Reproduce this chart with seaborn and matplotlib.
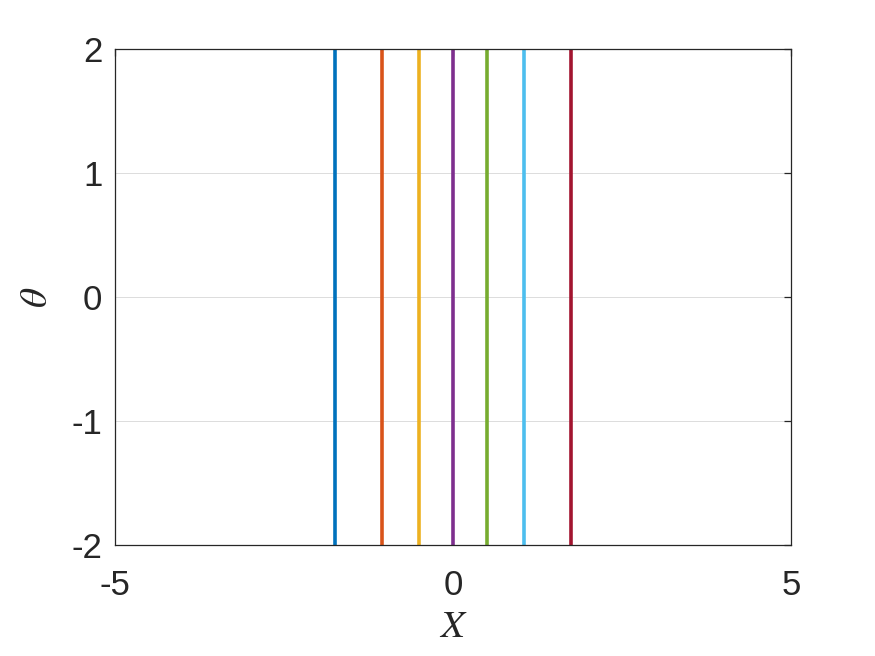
import numpy as np
import pandas as pd
import matplotlib
matplotlib.use("Agg")
import matplotlib.pyplot as plt
import seaborn as sns

# Data
x_positions = [-1.75, -1.05, -0.5, 0.0, 0.5, 1.05, 1.75]
series_names = ["s1", "s2", "s3", "s4", "s5", "s6", "s7"]
y_ends = [-2, 2]
colors = ["#0072BD", "#D95319", "#EDB120", "#7E2F8E", "#77AC30", "#4DBEEE", "#A2142F"]
x_ticks = [-5, 0, 5]
y_ticks = [-2, -1, 0, 1, 2]

rows = []
for name, xp in zip(series_names, x_positions):
    for yv in y_ends:
        rows.append({"series": name, "x": xp, "y": yv})
df = pd.DataFrame(rows)

sns.set_theme(style="white")
plt.rcParams["font.family"] = ["Liberation Sans", "DejaVu Sans"]
plt.rcParams["mathtext.fontset"] = "stix"

fig = plt.figure(figsize=(8.75, 6.56), dpi=100)
ax = fig.add_axes([0.1314, 0.169, 0.7726, 0.756])

sns.lineplot(data=df, x="x", y="y", hue="series", palette=colors,
             estimator=None, sort=False, legend=False, linewidth=2.6, ax=ax)

ax.set_xlim(-5, 5)
ax.set_ylim(-2, 2)
ax.set_xticks(x_ticks)
ax.set_yticks(y_ticks)
ax.set_xticklabels([str(t) for t in x_ticks])
ax.set_yticklabels([str(t) for t in y_ticks])
ax.grid(True, axis="y", color="#dcdcdc", linewidth=0.7)
ax.set_axisbelow(True)
for s in ax.spines.values():
    s.set_visible(True)
    s.set_color("#262626")
    s.set_linewidth(0.9)
ax.tick_params(axis="both", direction="in", length=5, width=0.9, color="#262626",
               labelsize=25, labelcolor="#262626", top=True, right=True)
ax.tick_params(axis="x", pad=17)
ax.tick_params(axis="y", pad=9)
ax.set_xlabel(r"$X$", fontsize=28, color="#262626", labelpad=5)
ax.set_ylabel(r"$\theta$", fontsize=28, color="#262626", labelpad=12)

fig.savefig("out.png", dpi=100, facecolor="white")
